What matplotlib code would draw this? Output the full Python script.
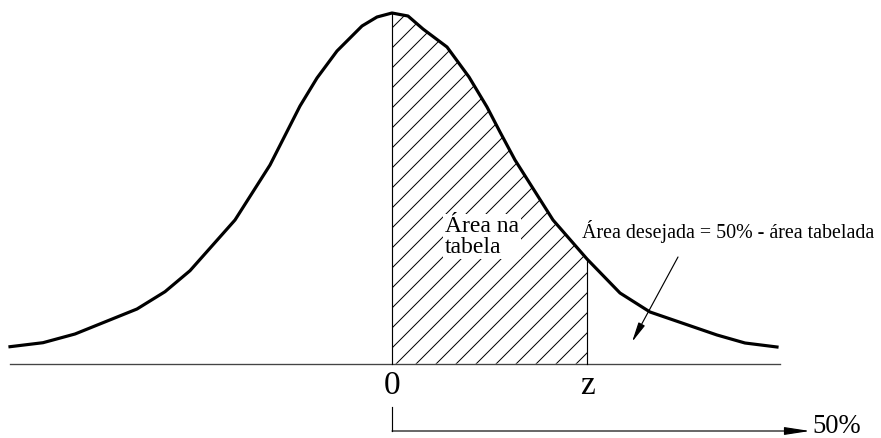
import numpy as np
import matplotlib
matplotlib.use("Agg")
import matplotlib.pyplot as plt

# curva normal desenhada como poligonal (x em desvios, altura em unidades da figura)
curve_x = [-3.82, -3.49, -3.17, -2.55, -2.27, -2.02, -1.57, -1.22, -0.92, -0.75,
           -0.55, -0.30, -0.15, 0.00, 0.16, 0.31, 0.55, 0.77, 0.95, 1.08,
           1.23, 1.61, 1.95, 2.28, 2.58, 3.25, 3.53, 3.85]
curve_y = [17.0, 21.0, 29.7, 54.7, 72.0, 93.0, 143.7, 198.7, 257.7, 285.7,
           312.7, 337.7, 346.7, 350.7, 347.7, 334.7, 316.7, 286.7, 256.7, 231.7,
           203.7, 143.7, 104.7, 70.7, 51.7, 28.7, 20.7, 16.7]

z_value = 1.95
axis_left, axis_right = -3.82, 3.88

label_zero = "0"
label_z = "z"
label_total = "50%"
label_table = "Área na\ntabela"
label_wanted = "Área desejada = 50% - área tabelada"

plt.rcParams['font.family'] = ['Liberation Serif', 'DejaVu Serif']
plt.rcParams['hatch.linewidth'] = 0.6

fig = plt.figure(figsize=(881 / 120, 438 / 120), dpi=120)
ax = fig.add_axes([0, 0, 1, 1])
ax.set_xlim(-3.92, 4.89)
ax.set_ylim(-74.3, 363.7)
ax.axis("off")

cx = np.array(curve_x)
cy = np.array(curve_y)

# area hachurada entre 0 e z
m = (cx >= 0) & (cx <= z_value)
ax.fill_between(cx[m], 0, cy[m], facecolor="none", edgecolor="black",
                hatch="//", linewidth=0)

# eixo horizontal
ax.plot([axis_left, axis_right], [0, 0], color="#444444", lw=0.8)

# linhas verticais em 0 e z
ax.plot([0, 0], [0, cy[cx == 0][0]], color="black", lw=0.7)
ax.plot([z_value, z_value], [0, cy[cx == z_value][0]], color="black", lw=0.7)

# curva
ax.plot(cx, cy, color="black", lw=1.9, solid_joinstyle="round")

ax.text(0, -22, label_zero, ha="center", va="center", fontsize=20)
ax.text(z_value, -22, label_z, ha="center", va="center", fontsize=20)

ax.text(0.53, 127, label_table, ha="left", va="center", fontsize=14.2,
        linespacing=1.0,
        bbox=dict(facecolor="white", edgecolor="none", pad=1.0))

ax.text(1.90, 125.7, label_wanted, ha="left", va="baseline", fontsize=12)

# seta indicando a area desejada
ax.annotate("", xy=(2.40, 21.7), xytext=(2.86, 106.7),
            arrowprops=dict(arrowstyle="-|>,head_length=1.0,head_width=0.18",
                            color="black", lw=0.7, mutation_scale=10,
                            shrinkA=0, shrinkB=0))

# colchete 50%
ax.plot([0, 0], [-43.3, -67.3], color="black", lw=0.7)
ax.annotate("", xy=(4.18, -67.3), xytext=(0, -67.3),
            arrowprops=dict(arrowstyle="-|>,head_length=1.3,head_width=0.2",
                            color="black", lw=0.7, mutation_scale=10,
                            shrinkA=0, shrinkB=0))
ax.text(4.20, -69.5, label_total, ha="left", va="baseline", fontsize=16)

fig.savefig("out.png", dpi=120, facecolor="white")
